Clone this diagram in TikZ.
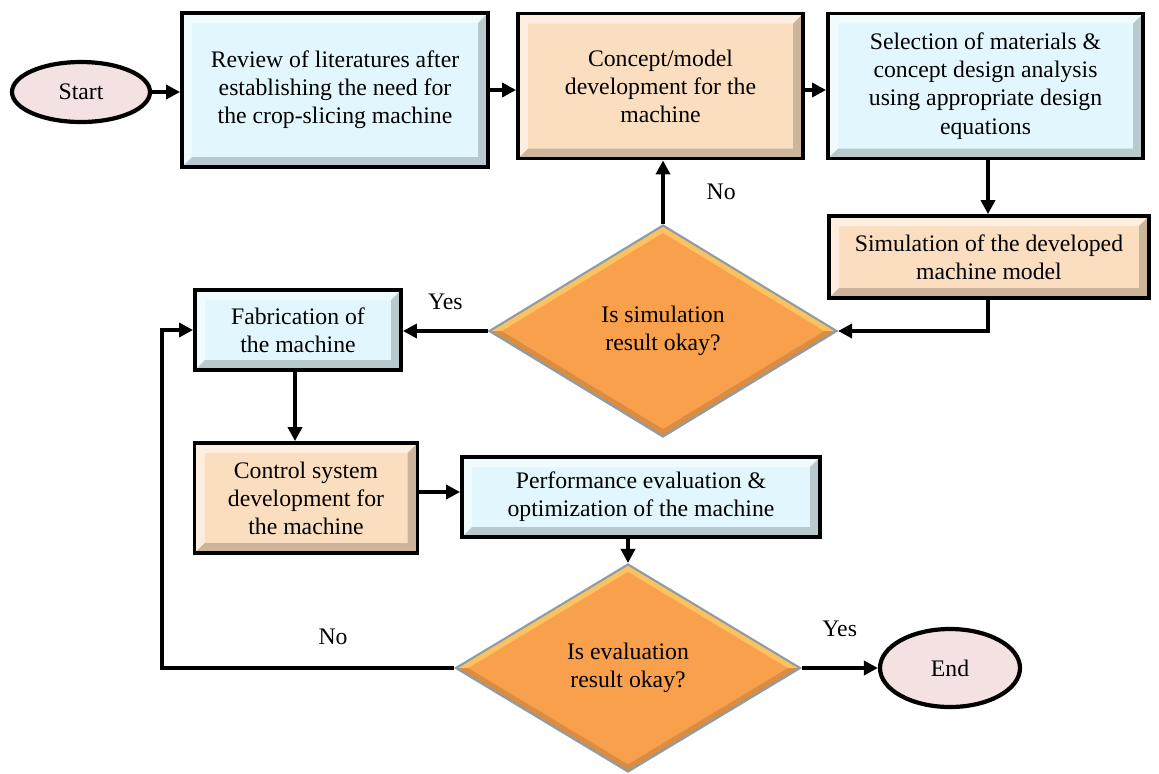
\documentclass[tikz,border=0pt]{standalone}
\usepackage{fontspec}
\setmainfont{Liberation Serif}
\usepackage{xcolor}
\usepackage{tikz}
\usetikzlibrary{arrows.meta, positioning, shapes.geometric, calc}

\definecolor{stepblue}{HTML}{E2F7FD}
\definecolor{steppeach}{HTML}{FBDDBF}
\definecolor{decorange}{HTML}{F9A04C}
\definecolor{termpink}{HTML}{F4E2E2}
\definecolor{decedge}{HTML}{8E9CA8}

\begin{document}
\begin{tikzpicture}[
  font=\fontsize{13.5}{16}\selectfont,
  bevel/.style={path picture={
    \path (path picture bounding box.north west) coordinate (pnw)
          (path picture bounding box.north east) coordinate (pne)
          (path picture bounding box.south west) coordinate (psw)
          (path picture bounding box.south east) coordinate (pse);
    \fill[white, opacity=0.5] (psw) -- (pnw) -- (pne) -- ([shift={(-0.2,-0.2)}]pne)
        -- ([shift={(0.2,-0.2)}]pnw) -- ([shift={(0.2,0.2)}]psw) -- cycle;
    \fill[black, opacity=0.18] (psw) -- (pse) -- (pne) -- ([shift={(-0.2,-0.2)}]pne)
        -- ([shift={(-0.2,0.2)}]pse) -- ([shift={(0.2,0.2)}]psw) -- cycle;}},
  dbevel/.style={path picture={
    \path (path picture bounding box.center) coordinate (pc)
          (path picture bounding box.north) coordinate (pn)
          (path picture bounding box.south) coordinate (ps)
          (path picture bounding box.west) coordinate (pw)
          (path picture bounding box.east) coordinate (pe);
    \fill[yellow!50!white, opacity=0.4] (pw) -- (pn) -- (pe) -- ($(pc)!0.93!(pe)$)
        -- ($(pc)!0.93!(pn)$) -- ($(pc)!0.93!(pw)$) -- cycle;
    \fill[black, opacity=0.12] (pw) -- (ps) -- (pe) -- ($(pc)!0.93!(pe)$)
        -- ($(pc)!0.93!(ps)$) -- ($(pc)!0.93!(pw)$) -- cycle;}},
  stepbox/.style={rectangle, draw=black, line width=2.2pt, align=center,
                  inner sep=2pt, bevel},
  blue/.style={stepbox, fill=stepblue},
  peach/.style={stepbox, fill=steppeach},
  decide/.style={diamond, draw=decedge, line width=1.2pt, fill=decorange,
                 align=center, inner sep=0pt, dbevel},
  term/.style={ellipse, draw=black, line width=2.4pt, fill=termpink,
               inner sep=0pt, align=center},
  arr/.style={-{Triangle[length=2.8mm, width=2.8mm]}, line width=2.2pt},
  lbl/.style={inner sep=1pt}
]
\useasboundingbox (0,0) rectangle (23.18,-15.46);
%% nodes
\node[term, minimum width=2.76cm, minimum height=1.2cm] (start) at (1.62,-1.84) {Start};
\node[blue, minimum width=6.12cm, minimum height=3.08cm] (review) at (6.70,-1.80)
    {Review of literatures after\\establishing the need for\\the crop-slicing machine};
\node[peach, minimum width=5.70cm, minimum height=2.90cm] (concept) at (13.21,-1.72)
    {Concept/model\\development for the\\machine};
\node[blue, minimum width=6.30cm, minimum height=2.90cm] (select) at (19.71,-1.72)
    {Selection of materials \&\\concept design analysis\\using appropriate design\\equations};
\node[peach, minimum width=6.40cm, minimum height=1.64cm] (sim) at (19.78,-5.14)
    {Simulation of the developed\\machine model};
\node[decide, minimum width=6.96cm, minimum height=4.24cm] (dec1) at (13.26,-6.62)
    {Is simulation\\result okay?};
\node[blue, minimum width=4.12cm, minimum height=1.60cm] (fab) at (5.96,-6.60)
    {Fabrication of\\the machine};
\node[peach, minimum width=4.46cm, minimum height=2.20cm] (control) at (6.12,-9.96)
    {Control system\\development for\\the machine};
\node[blue, minimum width=7.16cm, minimum height=1.60cm] (perf) at (12.82,-9.94)
    {Performance evaluation \&\\optimization of the machine};
\node[decide, minimum width=6.90cm, minimum height=4.16cm] (dec2) at (12.56,-13.36)
    {Is evaluation\\result okay?};
\node[term, minimum width=2.80cm, minimum height=1.56cm] (end) at (19.00,-13.36) {End};
%% return point of the "No" loop
\coordinate (ret) at (3.24,-6.60);
%% arrows
\draw[arr] (start.east) -- (start.east -| review.west);
\draw[arr] (review.east) -- (review.east -| concept.west);
\draw[arr] (concept.east |- review.east) -- (select.west |- review.east);
\draw[arr] (select.south -| 19.76,0) -- (sim.north -| 19.76,0);
\draw[arr] (sim.south -| 19.76,0) |- (dec1.east);
\draw[arr] (dec1.north) -- (dec1.north |- concept.south)
    node[lbl, midway, right=0.8cm] {No};
\draw[arr] (dec1.west) -- (dec1.west -| fab.east)
    node[lbl, midway, above=0.35cm] {Yes};
\draw[arr] (fab.south -| 5.90,0) -- (control.north -| 5.90,0);
\draw[arr] (control.east |- 0,-9.84) -- (perf.west |- 0,-9.84);
\draw[arr] (dec2.north |- perf.south) -- (dec2.north);
\draw[arr] (dec2.east) -- (end.west)
    node[lbl, midway, above=0.55cm] {Yes};
\draw[arr] (dec2.west) -| (ret) -- (fab.west);
\node[lbl] (nolbl) at (6.66,-12.74) {No};
\end{tikzpicture}
\end{document}
